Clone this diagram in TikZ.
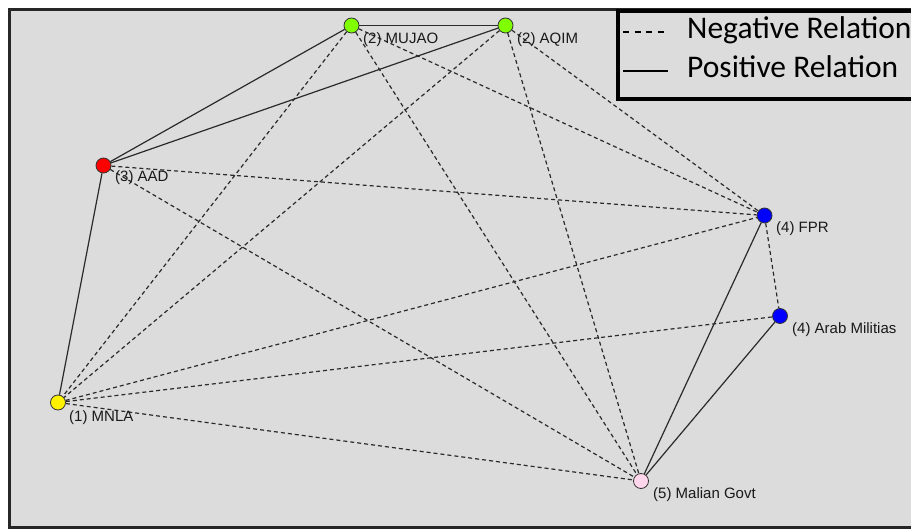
\documentclass[tikz,border=0pt]{standalone}
\usepackage{fontspec}
\setmainfont{Liberation Sans}
\newfontfamily\legendfont{Carlito}
\pgfdeclarelayer{framelayer}
\pgfdeclarelayer{edgelayer}
\pgfdeclarelayer{toplayer}
\pgfsetlayers{framelayer,edgelayer,main,toplayer}
\definecolor{panel}{HTML}{DCDCDC}
\definecolor{limegreen}{HTML}{80FF00}
\definecolor{pinkish}{HTML}{FFD6EC}
\definecolor{edgecol}{HTML}{2A2A2A}
\begin{document}
\begin{tikzpicture}[x=1pt,y=-1pt,
  actor/.style={circle,draw=black!80,line width=0.8pt,minimum size=15pt,inner sep=0pt},
  lab/.style={anchor=base west,inner sep=0pt,font=\fontsize{15}{17}\selectfont,text=black!90},
  negrel/.style={draw=edgecol,line width=1.2pt,dash pattern=on 4pt off 3pt},
  posrel/.style={draw=edgecol,line width=1.2pt},
  legendbox/.style={draw=black,line width=4pt,fill=panel,inner sep=0pt,anchor=north west},
  legtext/.style={anchor=base west,inner sep=0pt,font=\legendfont\fontsize{31.5}{38}\selectfont,text=black},
]
\useasboundingbox (0,0) rectangle (911,529);
\clip (0,0) rectangle (911,529);
\begin{pgfonlayer}{framelayer}
\fill[white] (0,0) rectangle (911,529);
\draw[line width=3pt,draw=black!85,fill=panel] (9.5,9.5) rectangle (930,527);
\end{pgfonlayer}

% actors
\node[actor,fill=limegreen] (mujao) at (351.5,25.5) {};
\node[actor,fill=limegreen] (aqim) at (505.5,25.5) {};
\node[actor,fill=red] (aad) at (103.5,165.5) {};
\node[actor,fill=blue] (fpr) at (764.5,215.5) {};
\node[actor,fill=blue] (arab) at (780,316) {};
\node[actor,fill=yellow] (mnla) at (58,402.5) {};
\node[actor,fill=pinkish] (govt) at (641,481) {};

% labels
\node[lab] (lmujao) at (363,44) {(2) MUJAO};
\node[lab] (laqim) at (517,44) {(2) AQIM};
\node[lab] (laad) at (115,182) {(3) AAD};
\node[lab] (lfpr) at (776,233) {(4) FPR};
\node[lab] (larab) at (792,333.5) {(4) Arab Militias};
\node[lab] (lmnla) at (69,421.5) {(1) MNLA};
\node[lab] (lgovt) at (653,498) {(5) Malian Govt};

\begin{pgfonlayer}{edgelayer}
% positive relations
\draw[posrel] (mujao) -- (aqim);
\draw[posrel] (aad) -- (mujao);
\draw[posrel] (aad) -- (aqim);
\draw[posrel] (aad) -- (mnla);
\draw[posrel] (fpr) -- (govt);
\draw[posrel] (arab) -- (govt);
% negative relations
\draw[negrel] (mujao) -- (mnla);
\draw[negrel] (aqim) -- (mnla);
\draw[negrel] (mujao) -- (govt);
\draw[negrel] (aqim) -- (govt);
\draw[negrel] (mujao) -- (fpr);
\draw[negrel] (aqim) -- (fpr);
\draw[negrel] (aad) -- (fpr);
\draw[negrel] (aad) -- (govt);
\draw[negrel] (mnla) -- (fpr);
\draw[negrel] (mnla) -- (arab);
\draw[negrel] (mnla) -- (govt);
\draw[negrel] (fpr) -- (arab);
\end{pgfonlayer}

\begin{pgfonlayer}{toplayer}
\node[legendbox,minimum width=314pt,minimum height=88pt] (legend) at (616,9) {};
\coordinate (nega) at (623,32);
\coordinate (negb) at (668,32);
\coordinate (posa) at (623,71);
\coordinate (posb) at (668,71);
\draw[draw=black,line width=1.5pt,dash pattern=on 6pt off 5.5pt] (nega) -- (negb);
\draw[draw=black,line width=1.5pt] (posa) -- (posb);
\node[legtext] (negtext) at (687,39) {Negative Relation};
\node[legtext] (postext) at (687,78) {Positive Relation};
\end{pgfonlayer}
\end{tikzpicture}
\end{document}
